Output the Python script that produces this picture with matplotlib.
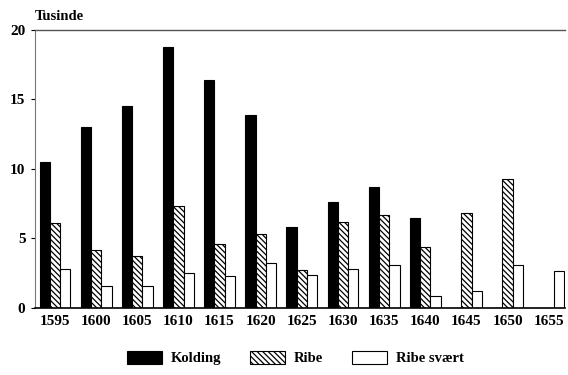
import matplotlib.pyplot as plt
import numpy as np

years = ["1595", "1600", "1605", "1610", "1615", "1620", "1625",
         "1630", "1635", "1640", "1645", "1650", "1655"]
kolding = [10.5, 13.0, 14.5, 18.8, 16.4, 13.9, 5.8, 7.6, 8.7, 6.5, 0, 0, 0]
ribe = [6.1, 4.2, 3.7, 7.3, 4.6, 5.3, 2.7, 6.2, 6.7, 4.4, 6.8, 9.3, 0]
ribe_svaert = [2.8, 1.6, 1.6, 2.5, 2.3, 3.2, 2.35, 2.8, 3.1, 0.85, 1.2, 3.1, 2.65]

plt.rcParams["font.family"] = ["Liberation Serif", "DejaVu Serif"]
plt.rcParams["font.weight"] = "bold"
plt.rcParams["hatch.linewidth"] = 0.9

fig = plt.figure(figsize=(5.68, 3.75), dpi=100)
ax = fig.add_axes([0.062, 0.179, 0.933, 0.741])

x = np.arange(len(years))
w = 0.25
b1 = ax.bar(x - w, kolding, w, color="black", edgecolor="black", linewidth=0.8, label="Kolding")
b2 = ax.bar(x, ribe, w, color="white", edgecolor="black", hatch="\\\\\\\\\\\\", linewidth=0.8, label="Ribe")
b3 = ax.bar(x + w, ribe_svaert, w, color="white", edgecolor="black", linewidth=0.8, label="Ribe svært")

ax.set_xlim(-0.48, 12.4)
ax.set_ylim(0, 20)
ax.set_xticks(x)
ax.set_xticklabels(years, fontsize=11, fontweight="bold")
ax.set_yticks([0, 5, 10, 15, 20])
ax.set_yticklabels(["0", "5", "10", "15", "20"], fontsize=11, fontweight="bold")
ax.tick_params(axis="x", length=0, pad=5)
ax.tick_params(axis="y", length=3, width=0.8, pad=4)

ax.spines["right"].set_visible(False)
ax.spines["top"].set_color("#555555")
ax.spines["top"].set_linewidth(1.0)
ax.spines["left"].set_color("#777777")
ax.spines["bottom"].set_linewidth(1.2)

fig.text(0.062, 0.955, "Tusinde", fontsize=10.5, fontweight="bold", ha="left", va="center")

fig.legend(
    [b1, b2, b3],
    ["Kolding", "Ribe", "Ribe svært"],
    ncol=3,
    loc="center",
    bbox_to_anchor=(0.52, 0.045),
    frameon=False,
    fontsize=10.5,
    handlelength=2.4,
    handleheight=1.0,
    handletextpad=0.6,
    columnspacing=2.0,
)

fig.savefig("out.png", dpi=100)
